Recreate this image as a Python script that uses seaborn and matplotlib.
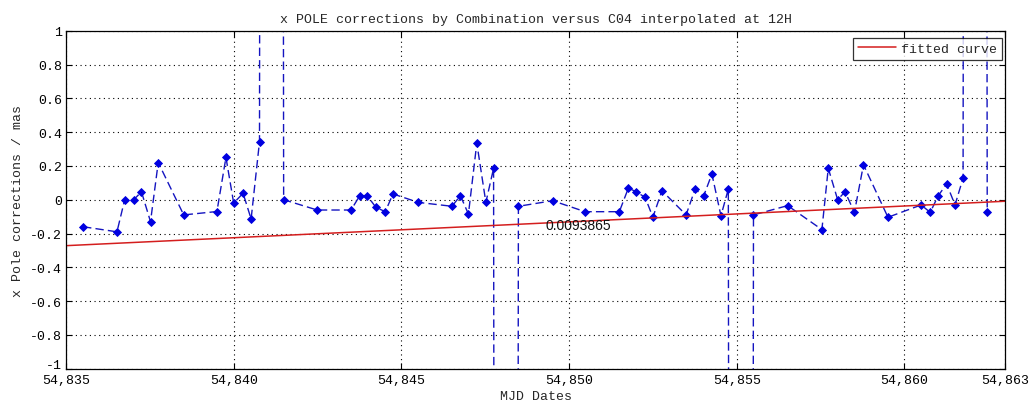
import numpy as np
import pandas as pd
import matplotlib
matplotlib.use("Agg")
import matplotlib.pyplot as plt
import matplotlib.transforms as mtransforms
import seaborn as sns

# ---- data ----
mjd = [54835.51, 54836.52, 54836.75, 54837.02, 54837.25, 54837.52, 54837.75, 54838.51,
       54839.50, 54839.77, 54840.00, 54840.28, 54840.52, 54840.77, 54841.12, 54841.49,
       54842.49, 54843.50, 54843.76, 54843.98, 54844.24, 54844.52, 54844.75, 54845.51,
       54846.51, 54846.76, 54847.00, 54847.25, 54847.52, 54847.75, 54848.12, 54848.49,
       54849.51, 54850.48, 54851.50, 54851.77, 54852.00, 54852.27, 54852.50, 54852.77,
       54853.49, 54853.76, 54854.01, 54854.26, 54854.53, 54854.75, 54855.12, 54855.50,
       54856.52, 54857.54, 54857.73, 54858.01, 54858.23, 54858.51, 54858.78, 54859.51,
       54860.50, 54860.77, 54861.01, 54861.26, 54861.51, 54861.75, 54862.11, 54862.47]
xpole = [-0.16, -0.19, 0.0, 0.0, 0.047, -0.13, 0.22, -0.09,
         -0.07, 0.25, -0.02, 0.038, -0.114, 0.343, 60.0, 0.0,
         -0.061, -0.061, 0.024, 0.024, -0.045, -0.071, 0.034, -0.016,
         -0.039, 0.024, -0.085, 0.335, -0.016, 0.186, -60.0, -0.039,
         -0.006, -0.071, -0.071, 0.069, 0.047, 0.014, -0.104, 0.053,
         -0.09, 0.063, 0.02, 0.152, -0.095, 0.063, -60.0, -0.09,
         -0.035, -0.177, 0.186, 0.0, 0.047, -0.075, 0.207, -0.104,
         -0.031, -0.075, 0.024, 0.093, -0.031, 0.128, 60.0, -0.075]

fit_range = [54835, 54863]
fit_intercept = -0.272      # value at MJD 54835
fit_slope = 0.0093865       # per day
slope_label = "0.0093865"
slope_label_pos = (54849.29, -0.148)

xticks = [54835, 54840, 54845, 54850, 54855, 54860, 54863]
xticklabels = ["54,835", "54,840", "54,845", "54,850", "54,855", "54,860", "54,863"]
yticks = [-1, -0.8, -0.6, -0.4, -0.2, 0, 0.2, 0.4, 0.6, 0.8, 1]
yticklabels = ["-1", "-0.8", "-0.6", "-0.4", "-0.2", "0", "0.2", "0.4", "0.6", "0.8", "1"]

title = "x POLE corrections by Combination versus C04 interpolated at 12H"
xlabel = "MJD Dates"
ylabel = "x Pole corrections / mas"
legend_label = "fitted curve"

# ---- styling ----
sns.set_style("white")
plt.rcParams['font.family'] = ['Liberation Mono', 'DejaVu Sans Mono']
MONO = 9.5

df = pd.DataFrame({"mjd": mjd, "x": xpole})
fit_x = np.array(fit_range, dtype=float)
fit_df = pd.DataFrame({"mjd": fit_x, "fit": fit_intercept + fit_slope * (fit_x - fit_range[0])})

W, H = 1031, 414
fig = plt.figure(figsize=(W / 100, H / 100), dpi=100)
L, R, T, B = 66, 1005, 31.7, 369.7
ax = fig.add_axes([L / W, 1 - B / H, (R - L) / W, (B - T) / H])

blue = "#1414c0"
sns.lineplot(data=df, x="mjd", y="x", ax=ax, sort=False, estimator=None,
             color=blue, linestyle=(0, (6, 3)), linewidth=1.0,
             marker="D", markersize=3.6, markeredgecolor="#0000e0",
             markerfacecolor="#0000e0", markeredgewidth=0.6, legend=False)
sns.lineplot(data=fit_df, x="mjd", y="fit", ax=ax, color="#d41e1e",
             linewidth=1.1, label=legend_label)

ax.text(slope_label_pos[0], slope_label_pos[1], slope_label, ha="left", va="center",
        fontsize=10, family=["Liberation Sans", "DejaVu Sans"], color="#111111")

ax.set_xlim(fit_range[0], fit_range[1])
ax.set_ylim(-1, 1)
ax.set_xticks(xticks)
ax.set_xticklabels(xticklabels, fontsize=MONO)
ax.set_yticks(yticks)
ax.set_yticklabels(yticklabels, fontsize=MONO)
ax.tick_params(direction="in", length=4, width=0.8, top=True, right=True,
               bottom=True, left=True, colors="black")
ax.tick_params(axis="x", pad=4)
ax.tick_params(axis="y", pad=3)
ax.grid(True, color="black", linestyle=(0, (1, 3.2)), linewidth=0.8)
for s in ax.spines.values():
    s.set_color("black")
    s.set_linewidth(0.9)

# lift the lowest y tick label slightly, as in the reference
lowest = ax.get_yticklabels()[0]
lowest.set_transform(lowest.get_transform() +
                     mtransforms.ScaledTranslation(0, 4 / 72, fig.dpi_scale_trans))

ax.set_title(title, fontsize=MONO, pad=6)
ax.set_xlabel(xlabel, fontsize=MONO, labelpad=3)
ax.set_ylabel(ylabel, fontsize=MONO, labelpad=4)

leg = ax.legend(loc="upper right", bbox_to_anchor=(0.9968, 0.978), borderaxespad=0,
                fontsize=MONO, frameon=True, fancybox=False, handlelength=2.9,
                handletextpad=0.4, borderpad=0.35)
leg.get_frame().set_edgecolor("black")
leg.get_frame().set_linewidth(0.9)

fig.savefig("out.png", dpi=100)
